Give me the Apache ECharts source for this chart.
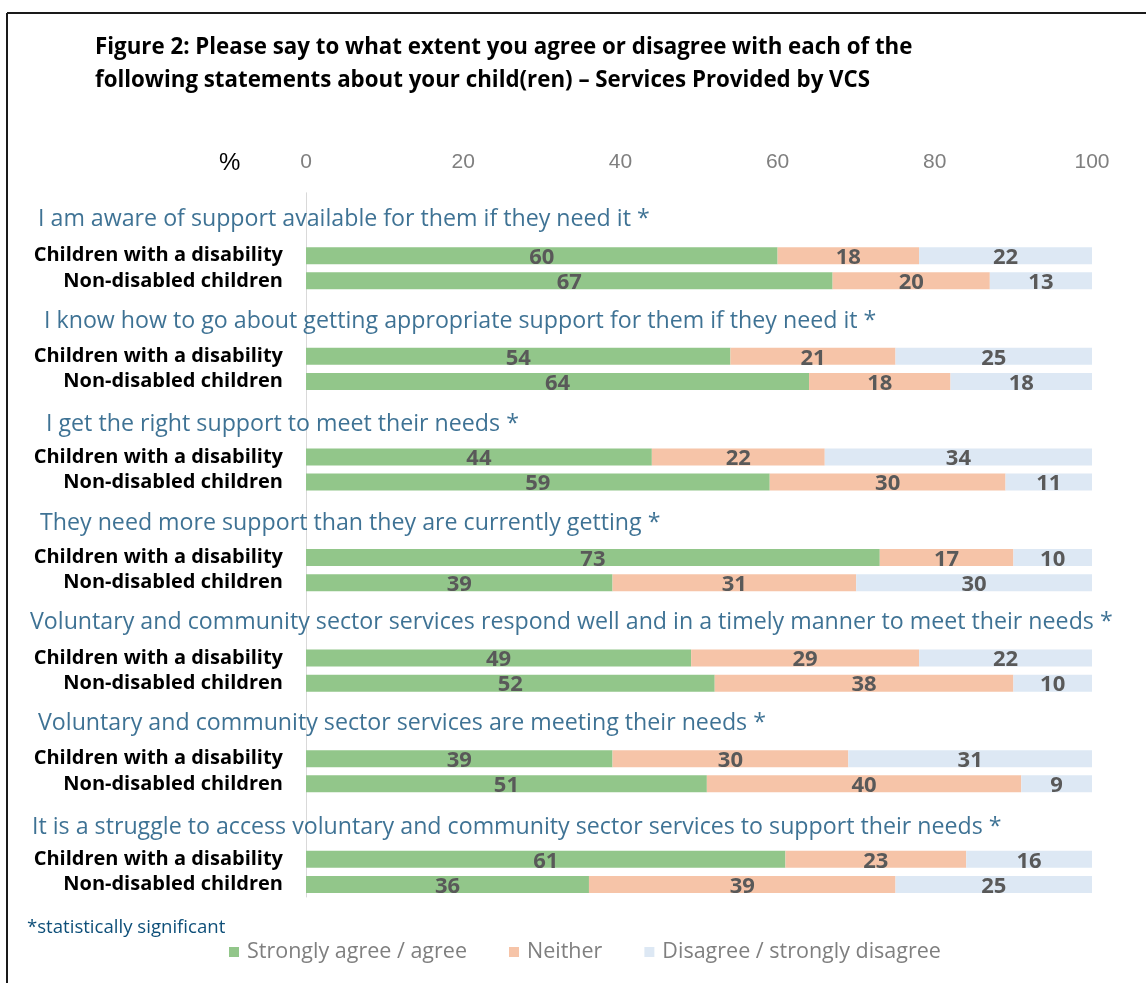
<!DOCTYPE html>
<html>
<head>
<meta charset="utf-8">
<title>Figure 2 – Services Provided by VCS</title>
<script src="https://cdn.jsdelivr.net/npm/echarts@6/dist/echarts.min.js"></script>
<style>
  html, body { margin: 0; padding: 0; background: #fff; }
  #chart { width: 1146px; height: 983px; }
</style>
</head>
<body>
<div id="chart"></div>
<script>
// ---- Data -------------------------------------------------------------
const statements = [
  'I am aware of support available for them if they need it *',
  'I know how to go about getting appropriate support for them if they need it *',
  'I get the right support to meet their needs *',
  'They need more support than they are currently getting *',
  'Voluntary and community sector services respond well and in a timely manner to meet their needs *',
  'Voluntary and community sector services are meeting their needs *',
  'It is a struggle to access voluntary and community sector services to support their needs *'
];
const groupLabels = ['Children with a disability', 'Non-disabled children'];
const seriesNames = ['Strongly agree / agree', 'Neither', 'Disagree / strongly disagree'];

// Children with a disability
const agreeDisabled    = [60, 54, 44, 73, 49, 39, 61];
const neitherDisabled  = [18, 21, 22, 17, 29, 30, 23];
const disagreeDisabled = [22, 25, 34, 10, 22, 31, 16];
// Non-disabled children
const agreeNon    = [67, 64, 59, 39, 52, 51, 36];
const neitherNon  = [20, 18, 30, 31, 38, 40, 39];
const disagreeNon = [13, 18, 11, 30, 10, 9, 25];

const xTicks = [0, 20, 40, 60, 80, 100];

// ---- Layout / style ---------------------------------------------------
const FONT = '"Open Sans", Lato, sans-serif';
const COLORS = ['#92C68A', '#F6C4A8', '#DDE8F4'];
const STMT_COLOR = '#0E4F79';
// left edge and vertical nudge of each statement heading
const stmtLeft = [38, 44, 46, 40, 30, 38, 32];
const stmtDy   = [-11, -9.5, -7.2, -8.8, -10.4, -10, -6.6];

// Each statement occupies four category rows: spacer, heading, two bars
const rows = [];
statements.forEach((s, i) => {
  rows.push('g' + i + '-gap', 'g' + i + '-head', 'g' + i + '-a', 'g' + i + '-b');
});

function rowSeries(disabledVals, nonVals) {
  const out = [];
  statements.forEach((s, i) => {
    out.push(null, null, disabledVals[i], nonVals[i]);
  });
  return out;
}

const stacks = [
  rowSeries(agreeDisabled, agreeNon),
  rowSeries(neitherDisabled, neitherNon),
  rowSeries(disagreeDisabled, disagreeNon)
];

const barSeries = seriesNames.map((name, k) => ({
  name: name,
  type: 'bar',
  stack: 'share',
  barWidth: 17,
  itemStyle: { color: COLORS[k] },
  label: {
    show: true,
    position: 'inside',
    offset: [0, 2],
    color: '#595959',
    fontFamily: FONT,
    fontWeight: 'bold',
    fontSize: 22,
    formatter: p => p.value == null ? '' : String(p.value)
  },
  emphasis: { disabled: true },
  data: stacks[k]
}));

// Statement headings, anchored to their heading rows
const GRID_LEFT = 306;
const headingSeries = {
  name: 'headings',
  type: 'scatter',
  symbolSize: 0,
  silent: true,
  clip: false,
  z: 5,
  data: statements.map((s, i) => ({
    value: [0, i * 4 + 1],
    label: {
      show: true,
      position: 'right',
      distance: 0,
      offset: [stmtLeft[i] - GRID_LEFT, stmtDy[i]],
      formatter: s,
      color: STMT_COLOR,
      fontFamily: FONT,
      fontSize: 23.2
    }
  }))
};

const chart = echarts.init(document.getElementById('chart'), null, { renderer: 'canvas' });

chart.setOption({
  backgroundColor: '#ffffff',
  animation: false,
  textStyle: { fontFamily: FONT },
  grid: { left: GRID_LEFT, right: 1146 - 1092, top: 192.8, height: 704.2, containLabel: false },
  xAxis: {
    type: 'value',
    position: 'top',
    min: xTicks[0],
    max: xTicks[xTicks.length - 1],
    interval: xTicks[1] - xTicks[0],
    axisLine: { show: false },
    axisTick: { show: false },
    splitLine: { show: false },
    axisLabel: {
      margin: 20,
      color: '#7F7F7F',
      fontFamily: '"Liberation Sans", Arial, sans-serif',
      fontSize: 21
    }
  },
  yAxis: {
    type: 'category',
    inverse: true,
    data: rows,
    axisLine: { show: true, lineStyle: { color: '#D9D9D9', width: 1 } },
    axisTick: { show: false },
    splitLine: { show: false },
    axisLabel: {
      margin: 23,
      interval: 0,
      color: '#000000',
      fontFamily: FONT,
      fontWeight: 'bold',
      fontSize: 20,
      formatter: v => v.endsWith('-a') ? groupLabels[0] : (v.endsWith('-b') ? groupLabels[1] : '')
    }
  },
  legend: {
    data: seriesNames,
    left: 224,
    top: 936,
    icon: 'rect',
    itemWidth: 10,
    itemHeight: 10,
    itemGap: 42,
    textStyle: { color: '#7F7F7F', fontFamily: FONT, fontSize: 21.5, padding: [0, 0, 0, 3] },
    selectedMode: false
  },
  series: [...barSeries, headingSeries],
  graphic: [
    // frame
    { type: 'line', shape: { x1: 7, y1: 13, x2: 1146, y2: 13 }, style: { stroke: '#1a1a1a', lineWidth: 2 } },
    { type: 'line', shape: { x1: 7, y1: 13, x2: 7, y2: 983 }, style: { stroke: '#1a1a1a', lineWidth: 2 } },
    // title
    {
      type: 'text', left: 95, top: 31,
      style: {
        text: 'Figure 2: Please say to what extent you agree or disagree with each of the\nfollowing statements about your child(ren) – Services Provided by VCS',
        fill: '#000', font: 'bold 22.3px ' + FONT, lineHeight: 33
      }
    },
    // unit marker beside the axis
    {
      type: 'text', left: 219, top: 151,
      style: { text: '%', fill: '#000', font: '24px "Liberation Sans", Arial, sans-serif' }
    },
    // footnote
    {
      type: 'text', left: 27, top: 918,
      style: { text: '*statistically significant', fill: STMT_COLOR, font: '18.6px ' + FONT }
    }
  ]
});
</script>
</body>
</html>
